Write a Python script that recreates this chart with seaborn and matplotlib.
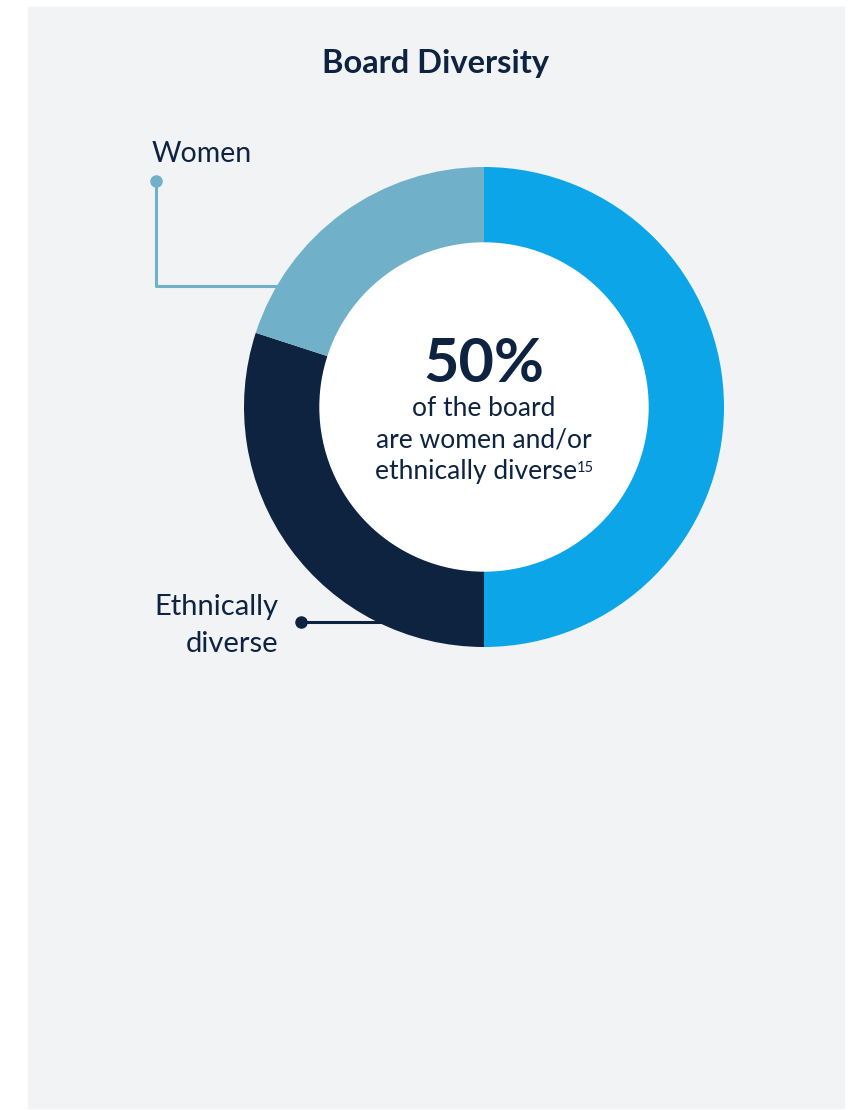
import numpy as np
import pandas as pd
import matplotlib
matplotlib.use('Agg')
import matplotlib.pyplot as plt
import seaborn as sns

sns.set_style('white')
plt.rcParams['font.family'] = ['Lato', 'DejaVu Sans']

# data
groups = ['Women and/or ethnically diverse', 'Ethnically diverse', 'Women']
shares = [50, 30, 20]
colors = ['#0BA5E8', '#0E2340', '#71B0C9']
headline = '50%'
sub_lines = ['of the board', 'are women and/or', 'ethnically diverse']
footnote = '15'

navy = '#0E2340'
bg = '#F2F3F5'

H = 1110
fig = plt.figure(figsize=(8.54, 11.10), dpi=100)
fig.patch.set_facecolor('white')
ax = fig.add_axes([0, 0, 1, 1])

# panel background
ax.add_patch(plt.Rectangle((28, H - 1108), 816, 1101, color=bg, zorder=0))

cx, cy, r = 484, H - 407, 240
ax.pie(shares, colors=colors, startangle=90, counterclock=False,
       center=(cx, cy), radius=r,
       wedgeprops=dict(width=r - 164, linewidth=0))
ax.add_patch(plt.Circle((cx, cy), 164, color='white', zorder=1))
ax.set_xlim(0, 854)
ax.set_ylim(0, H)
ax.set_aspect('auto')
ax.axis('off')

ax.text(436, H - 63, 'Board Diversity', ha='center', va='center',
        fontsize=23.5, fontweight='bold', color=navy)

# center text
ax.text(cx, H - 364, headline, ha='center', va='center',
        fontsize=44, fontweight='bold', color=navy, zorder=3)
for i, line in enumerate(sub_lines):
    x = cx if i < 2 else cx - 8
    t = ax.text(x, H - (409 + 31 * i), line, ha='center', va='center',
                fontsize=19, color=navy, zorder=3)
ax.annotate(footnote, xy=(1, 0.88), xycoords=t, ha='left', va='top',
            fontsize=10.5, color=navy, zorder=3)

# leaders
lb = colors[2]
ax.plot([156, 156, 278], [H - 181, H - 286, H - 286], color=lb, lw=2.2,
        solid_capstyle='butt')
ax.plot([156], [H - 181], 'o', color=lb, ms=8)
ax.text(152, H - 154, 'Women', ha='left', va='center', fontsize=20.5, color=navy)

ax.plot([301, 380], [H - 622, H - 622], color=navy, lw=2.2)
ax.plot([301], [H - 622], 'o', color=navy, ms=8)
ax.text(278, H - 607, 'Ethnically', ha='right', va='center', fontsize=21, color=navy)
ax.text(278, H - 644, 'diverse', ha='right', va='center', fontsize=21, color=navy)

fig.savefig('out.png', dpi=100, facecolor='white')
